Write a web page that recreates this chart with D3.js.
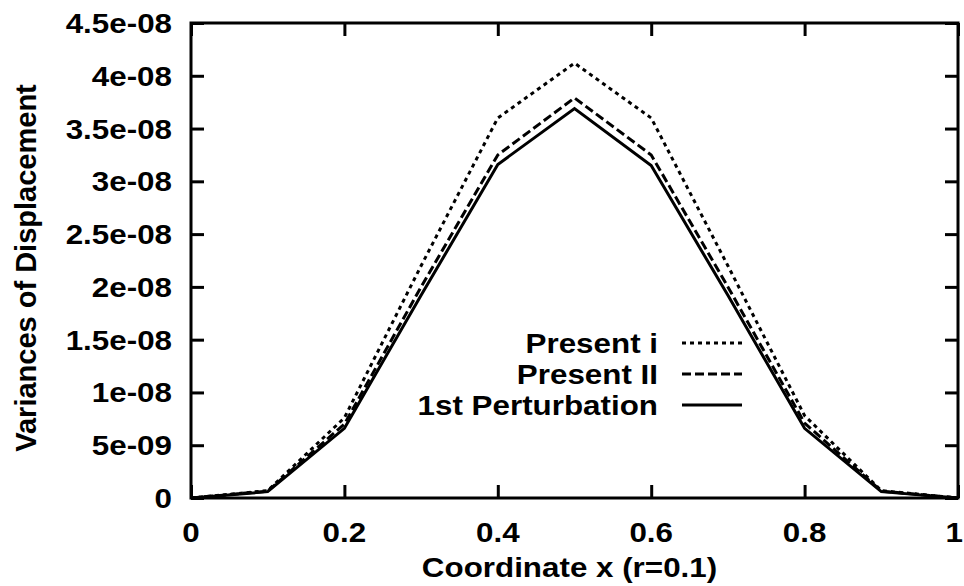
<!DOCTYPE html>
<html><head><meta charset="utf-8">
<script src="https://cdn.jsdelivr.net/npm/d3@7/dist/d3.min.js"></script>
<style>body{margin:0;background:#fff}svg{display:block}</style>
</head><body>
<svg id="c" width="964" height="586"></svg>
<script>
const xValues = [0, 0.1, 0.2, 0.3, 0.4, 0.5, 0.6, 0.7, 0.8, 0.9, 1.0];
const presentI = [0, 7e-10, 7.6e-9, 2.2e-8, 3.6e-8, 4.12e-8, 3.6e-8, 2.2e-8, 7.8e-9, 7e-10, 0];
const presentII = [0, 6.5e-10, 7.0e-9, 2.0e-8, 3.25e-8, 3.79e-8, 3.25e-8, 2.0e-8, 7.1e-9, 6.5e-10, 0];
const perturbation = [0, 6e-10, 6.6e-9, 1.92e-8, 3.16e-8, 3.69e-8, 3.15e-8, 1.92e-8, 6.6e-9, 6e-10, 0];
const seriesNames = ["Present i", "Present II", "1st Perturbation"];
const xTicks = [0, 0.2, 0.4, 0.6, 0.8, 1];
const xTickLabels = ["0", "0.2", "0.4", "0.6", "0.8", "1"];
const yTicks = [0, 5e-9, 1e-8, 1.5e-8, 2e-8, 2.5e-8, 3e-8, 3.5e-8, 4e-8, 4.5e-8];
const yTickLabels = ["0", "5e-09", "1e-08", "1.5e-08", "2e-08", "2.5e-08", "3e-08", "3.5e-08", "4e-08", "4.5e-08"];
const xTitle = "Coordinate x (r=0.1)";
const yTitle = "Variances of Displacement";

const svg = d3.select("#c");
const L = 191, R = 958, T = 23, B = 498;
const x = d3.scaleLinear().domain([0, 1]).range([L, R]);
const y = d3.scaleLinear().domain([0, 4.5e-8]).range([B, T]);
const FONT = "'Liberation Sans', Arial, Helvetica, sans-serif";
const SX = 1.12;

function txt(px, py, s, anchor, size) {
  svg.append("text")
    .attr("transform", `translate(${px},${py}) scale(${SX},1)`)
    .attr("text-anchor", anchor)
    .attr("font-family", FONT).attr("font-weight", "bold")
    .attr("font-size", size).attr("fill", "#000")
    .text(s);
}

// axes (ticks inward, mirrored)
const tk = 13;
const gB = svg.append("g").attr("transform", `translate(0,${B})`)
  .call(d3.axisBottom(x).tickValues(xTicks).tickSize(-tk).tickFormat(""));
const gT = svg.append("g").attr("transform", `translate(0,${T})`)
  .call(d3.axisTop(x).tickValues(xTicks).tickSize(-tk).tickFormat(""));
const gL = svg.append("g").attr("transform", `translate(${L},0)`)
  .call(d3.axisLeft(y).tickValues(yTicks).tickSize(-tk).tickFormat(""));
const gR = svg.append("g").attr("transform", `translate(${R},0)`)
  .call(d3.axisRight(y).tickValues(yTicks).tickSize(-tk).tickFormat(""));
[gB, gT, gL, gR].forEach(g => {
  g.select(".domain").remove();
  g.selectAll(".tick line").attr("stroke", "#000").attr("stroke-width", 3);
});
svg.append("rect").attr("x", L).attr("y", T).attr("width", R - L).attr("height", B - T)
  .attr("fill", "none").attr("stroke", "#000").attr("stroke-width", 3);

// tick labels
xTicks.forEach((v, i) => {
  const last = i === xTicks.length - 1;
  txt(last ? 963 : x(v), 542, xTickLabels[i], last ? "end" : "middle", 28);
});
yTicks.forEach((v, i) => txt(172, y(v) + 10, yTickLabels[i], "end", 28));

// titles
txt((L + R) / 2 - 5, 577, xTitle, "middle", 28);
svg.append("text")
  .attr("transform", `translate(36,268) rotate(-90)`)
  .attr("text-anchor", "middle")
  .attr("font-family", FONT).attr("font-weight", "bold")
  .attr("font-size", 29).attr("fill", "#000")
  .text(yTitle);

// lines
const styles = [
  { data: presentI, dash: "4,4" },
  { data: presentII, dash: "9,4" },
  { data: perturbation, dash: null }
];
const line = d3.line().x((d, i) => x(xValues[i])).y(d => y(d));
styles.forEach(s => {
  svg.append("path").datum(s.data).attr("d", line)
    .attr("fill", "none").attr("stroke", "#000").attr("stroke-width", 3)
    .attr("stroke-dasharray", s.dash).attr("stroke-linejoin", "miter");
});

// legend
const legY = [343, 374, 405];
seriesNames.forEach((n, i) => {
  txt(658, legY[i] + 10, n, "end", 28);
  svg.append("line").attr("x1", 682).attr("x2", 742).attr("y1", legY[i]).attr("y2", legY[i])
    .attr("stroke", "#000").attr("stroke-width", 3).attr("stroke-dasharray", styles[i].dash);
});
</script>
</body></html>
